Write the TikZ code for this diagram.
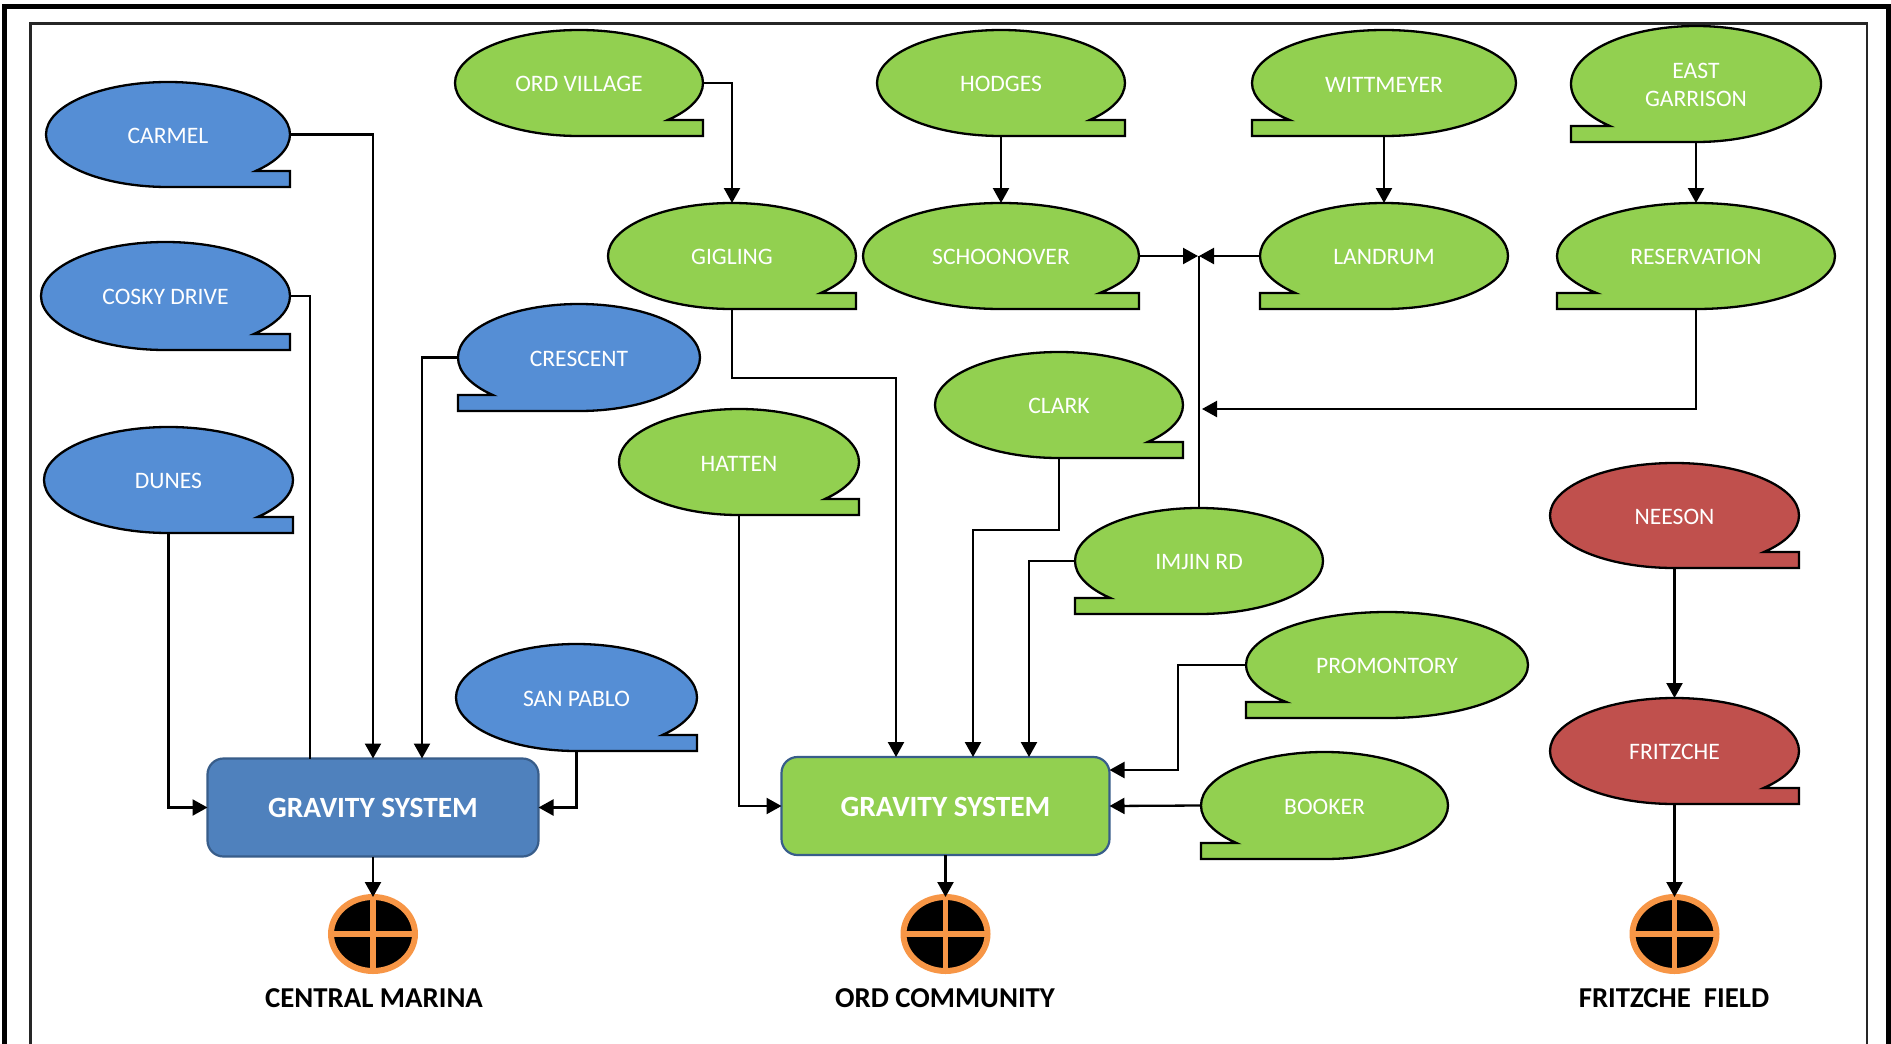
\documentclass[tikz,border=0pt]{standalone}
\usepackage{fontspec}
\setmainfont{Carlito}
\usetikzlibrary{arrows.meta,shapes.geometric}
\definecolor{cblue}{HTML}{558ED5}
\definecolor{cgreen}{HTML}{92D050}
\definecolor{cred}{HTML}{C0504D}
\definecolor{boxblue}{HTML}{4F81BD}
\definecolor{boxedge}{HTML}{385D8A}
\definecolor{drainorange}{HTML}{F79646}
\tikzset{
  outline/.style={draw=black,line width=2.3pt,line join=miter},
  calloutnode/.style={ellipse,inner sep=0pt,outer sep=0pt,text=white,align=center,font=\fontsize{23.6}{28}\selectfont},
  link/.style={draw=black,line width=2.3pt},
  linkarrow/.style={link,-{Triangle[width=16pt,length=15pt]}},
  sysbox/.style={rectangle,rounded corners=16pt,draw=boxedge,line width=2.2pt,minimum width=331pt,minimum height=98pt,
     inner sep=0pt,outer sep=0pt,text=white,text height=20.6pt,font=\fontsize{29.4}{34}\selectfont\bfseries},
  drain/.style={ellipse,draw=drainorange,fill=black,line width=6pt,minimum width=84pt,minimum height=74pt,inner sep=0pt,outer sep=0pt},
  drainbar/.style={draw=drainorange,line width=5.5pt},
  placename/.style={inner sep=0pt,text=black,font=\fontsize{28.8}{34}\selectfont\bfseries},
}
% name, left, right, top, bottom, dir (1 = tail right, -1 = tail left), colour, text
\newcommand{\bubble}[8]{%
  \pgfmathsetmacro\bcx{(#2+#3)/2}%
  \pgfmathsetmacro\bcy{(#4+#5)/2}%
  \pgfmathsetmacro\brx{(#3-#2)/2}%
  \pgfmathsetmacro\bry{(#5-#4)/2}%
  \pgfmathsetmacro\bang{asin((\bry-16)/\bry)}%
  \ifnum#6>0
    \pgfmathsetmacro\bend{360+\bang}%
    \draw[outline,fill=#7] (\bcx,#5) arc[start angle=90,end angle=\bend,x radius=\brx pt,y radius=\bry pt]
       -- (#3,#5-16) -- (#3,#5) -- cycle;
  \else
    \pgfmathsetmacro\bend{-180-\bang}%
    \draw[outline,fill=#7] (\bcx,#5) arc[start angle=90,end angle=\bend,x radius=\brx pt,y radius=\bry pt]
       -- (#2,#5-16) -- (#2,#5) -- cycle;
  \fi
  \node[calloutnode,minimum width=2*\brx pt,minimum height=2*\bry pt] (#1) at (\bcx,\bcy) {\rule{0pt}{18pt}#8};
}
\begin{document}
\begin{tikzpicture}[x=1pt,y=1pt,yscale=-1]
\useasboundingbox (0,0) rectangle (1891,1044);
\fill[white] (0,0) rectangle (1891,1044);
% frames
\draw[black,line width=5pt] (4.5,1044) -- (4.5,6.5) -- (1888.5,6.5) -- (1888.5,1044);
\draw[black!85,line width=2.2pt] (30.5,1044) -- (30.5,23.5) -- (1867,23.5) -- (1867,1044);
% blue bubbles
\bubble{carmel}{46}{290}{82}{187}{1}{cblue}{CARMEL}
\bubble{cosky}{41}{290}{242}{350}{1}{cblue}{COSKY DRIVE}
\bubble{dunes}{44}{293}{427}{533}{1}{cblue}{DUNES}
\bubble{crescent}{458}{700}{304}{411}{-1}{cblue}{CRESCENT}
\bubble{sanpablo}{456}{697}{644}{751}{1}{cblue}{SAN PABLO}
% green bubbles
\bubble{ordvillage}{455}{703}{30}{136}{1}{cgreen}{ORD VILLAGE}
\bubble{hodges}{877}{1125}{30}{136}{1}{cgreen}{HODGES}
\bubble{wittmeyer}{1252}{1516}{30}{136}{-1}{cgreen}{WITTMEYER}
\bubble{eastgarrison}{1571}{1821}{26}{142}{-1}{cgreen}{EAST\\GARRISON}
\bubble{gigling}{608}{856}{203}{309}{1}{cgreen}{GIGLING}
\bubble{schoonover}{863}{1139}{203}{309}{1}{cgreen}{SCHOONOVER}
\bubble{landrum}{1260}{1508}{203}{309}{-1}{cgreen}{LANDRUM}
\bubble{reservation}{1557}{1835}{203}{309}{-1}{cgreen}{RESERVATION}
\bubble{clark}{935}{1183}{352}{458}{1}{cgreen}{CLARK}
\bubble{hatten}{619}{859}{409}{515}{1}{cgreen}{HATTEN}
\bubble{imjin}{1075}{1323}{508}{614}{-1}{cgreen}{IMJIN RD}
\bubble{promontory}{1246}{1528}{612}{718}{-1}{cgreen}{PROMONTORY}
\bubble{booker}{1201}{1448}{752}{859}{-1}{cgreen}{BOOKER}
% red bubbles
\bubble{neeson}{1550}{1799}{463}{568}{1}{cred}{NEESON}
\bubble{fritzche}{1550}{1799}{698}{804}{1}{cred}{FRITZCHE}
% gravity systems
\node[sysbox,fill=boxblue] (gravA) at (373,807.5) {GRAVITY SYSTEM};
\node[sysbox,fill=cgreen,minimum width=328pt,minimum height=98pt] (gravB) at (945.5,806) {GRAVITY SYSTEM};
% drains
\node[drain] (drainA) at (373,934) {};
\node[drain] (drainB) at (945.5,934) {};
\node[drain] (drainC) at (1674.5,934) {};
\foreach \d in {drainA,drainB,drainC}{
  \draw[drainbar] (\d.north) -- (\d.south);
  \draw[drainbar] (\d.west) -- (\d.east);
}
% place names
\node[placename] (nameA) at (374,998) {CENTRAL MARINA};
\node[placename] (nameB) at (945,998) {ORD COMMUNITY};
\node[placename] (nameC) at (1674,998) {FRITZCHE\ \ FIELD};
% junction coordinates
\coordinate (tapCosky) at (310,296);
\coordinate (tapCrescent) at (422,357);
\coordinate (tapGigling) at (896,378);
\coordinate (tapClark) at (973,530);
\coordinate (tapImjin) at (1029,561);
\coordinate (tapPromontory) at (1178,770);
\coordinate (meetW) at (1198,256);
\coordinate (meetE) at (1199,256);
\coordinate (meetR) at (1202,409);
% connectors: central marina
\draw[linkarrow] (carmel.east) -| (gravA.north);
\draw[link] (cosky.east) -| (tapCosky |- gravA.north);
\draw[linkarrow] (dunes.south) |- (gravA.west);
\draw[linkarrow] (crescent.west) -| (tapCrescent |- gravA.north);
\draw[linkarrow] (sanpablo.south) |- (gravA.east);
\draw[linkarrow] (gravA.south) -- (drainA.north);
% connectors: ord community
\draw[linkarrow] (ordvillage.east) -| (gigling.north);
\draw[linkarrow] (hodges.south) -- (schoonover.north);
\draw[linkarrow] (wittmeyer.south) -- (landrum.north);
\draw[linkarrow] (eastgarrison.south) -- (reservation.north);
\draw[linkarrow] (gigling.south) |- (tapGigling) -- (tapGigling |- gravB.north);
\draw[linkarrow] (schoonover.east) -- (meetW);
\draw[linkarrow] (landrum.west) -- (meetE);
\draw[link] (imjin.north) -- (meetE);
\draw[linkarrow] (reservation.south) |- (meetR);
\draw[linkarrow] (clark.south) |- (tapClark) -- (tapClark |- gravB.north);
\draw[linkarrow] (imjin.west) -| (tapImjin |- gravB.north);
\draw[linkarrow] (hatten.south) |- (gravB.west);
\draw[linkarrow] (promontory.west) -| (tapPromontory) -- (tapPromontory -| gravB.east);
\draw[linkarrow] (booker.west) -- (gravB.east);
\draw[linkarrow] (gravB.south) -- (drainB.north);
% connectors: fritzche
\draw[linkarrow] (neeson.south) -- (fritzche.north);
\draw[linkarrow] (fritzche.south) -- (drainC.north);
\end{tikzpicture}
\end{document}
